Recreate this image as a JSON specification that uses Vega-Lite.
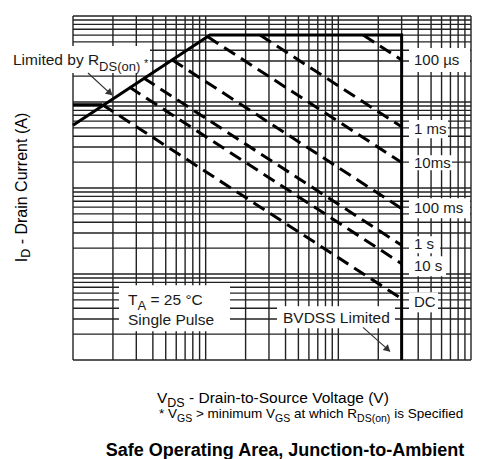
{
  "$schema": "https://vega.github.io/schema/vega-lite/v6.json",
  "width": 398,
  "height": 344,
  "autosize": "none",
  "padding": {"left": 73, "top": 16, "right": 12, "bottom": 99},
  "background": "white",
  "config": {"font": "Liberation Sans", "view": {"stroke": null}},
  "datasets": {
    "vx": [{"v":0.1},{"v":0.2},{"v":0.3},{"v":0.4},{"v":0.5},{"v":0.6},{"v":0.7},{"v":0.8},{"v":0.9},
           {"v":1},{"v":2},{"v":3},{"v":4},{"v":5},{"v":6},{"v":7},{"v":8},{"v":9},
           {"v":10},{"v":20},{"v":30},{"v":40},{"v":50},{"v":60},{"v":70},{"v":80},{"v":90},{"v":100}],
    "hy": [{"v":0.01},{"v":0.02},{"v":0.03},{"v":0.04},{"v":0.05},{"v":0.06},{"v":0.07},{"v":0.08},{"v":0.09},
           {"v":0.1},{"v":0.2},{"v":0.3},{"v":0.4},{"v":0.5},{"v":0.6},{"v":0.7},{"v":0.8},{"v":0.9},
           {"v":1},{"v":2},{"v":3},{"v":4},{"v":5},{"v":6},{"v":7},{"v":8},{"v":9},
           {"v":10},{"v":20},{"v":30},{"v":40},{"v":50},{"v":60},{"v":70},{"v":80},{"v":90},{"v":100}],
    "boxes": [
      {"x":0.03,"x2":0.3805,"y":44.75,"y2":21.70},
      {"x":0.2222,"x2":1.5258,"y":0.073855,"y2":0.021527},
      {"x":3.4479,"x2":26.73,"y":0.042073,"y2":0.023322},
      {"x":34.09,"x2":98.26,"y":42.41,"y2":22.29},
      {"x":34.09,"x2":67.08,"y":6.156,"y2":3.800},
      {"x":34.09,"x2":71.91,"y":2.409,"y2":1.6115},
      {"x":34.09,"x2":98.26,"y":0.7607,"y2":0.4450},
      {"x":34.09,"x2":58.40,"y":0.2748,"y2":0.1741},
      {"x":34.09,"x2":64.79,"y":0.1607,"y2":0.0940},
      {"x":34.09,"x2":56.40,"y":0.06122,"y2":0.03582}
    ],
    "solid": [
      {"s":"lim","o":0,"x":0.1,"y":5.38},
      {"s":"lim","o":1,"x":1.078,"y":60},
      {"s":"lim","o":2,"x":30,"y":60},
      {"s":"lim","o":3,"x":30,"y":0.01},
      {"s":"flat","o":0,"x":0.1,"y":9.3},
      {"s":"flat","o":1,"x":0.1667,"y":9.3}
    ],
    "dash": [
      {"s":"100us","o":0,"x":15.4,"y":60},{"s":"100us","o":1,"x":30,"y":30.8},
      {"s":"1ms","o":0,"x":2.57,"y":60},{"s":"1ms","o":1,"x":30,"y":5.14},
      {"s":"10ms","o":0,"x":1.03,"y":57.6},{"s":"10ms","o":1,"x":30,"y":1.98},
      {"s":"100ms","o":0,"x":0.557,"y":31},{"s":"100ms","o":1,"x":30,"y":0.577},
      {"s":"1s","o":0,"x":0.341,"y":19},{"s":"1s","o":1,"x":30,"y":0.216},
      {"s":"10s","o":0,"x":0.266,"y":14.9},{"s":"10s","o":1,"x":30,"y":0.132},
      {"s":"DC","o":0,"x":0.1667,"y":9.3},{"s":"DC","o":1,"x":30,"y":0.0516}
    ],
    "arrows": [
      {"s":"a1","o":0,"x":0.12972,"y":21.70},{"s":"a1","o":1,"x":0.19680,"y":12.032},
      {"s":"a2","o":0,"x":15.345,"y":0.023955},{"s":"a2","o":1,"x":24.507,"y":0.012593}
    ],
    "heads": [
      {"x":0.19009,"y":12.695},
      {"x":23.59,"y":0.013283}
    ],
    "rlabels": [
      {"t":"100 µs","x":37.18,"y":30.74},
      {"t":"1 ms","x":37.18,"y":4.836},
      {"t":"10ms","x":37.18,"y":1.971},
      {"t":"100 ms","x":37.18,"y":0.5818},
      {"t":"1 s","x":37.18,"y":0.2217},
      {"t":"10 s","x":37.18,"y":0.1229},
      {"t":"DC","x":37.18,"y":0.04684}
    ],
    "ann": [
      {"t":"Limited by R","x":0.035293,"y":26.886},
      {"t":"T","x":0.25976,"y":0.043213},
      {"t":"= 25 °C","x":0.38383,"y":0.043213},
      {"t":"Single Pulse","x":0.25976,"y":0.02528},
      {"t":"BVDSS Limited","x":3.8270,"y":0.026671}
    ],
    "annsub": [
      {"t":"DS(on)","x":0.15733,"y":22.894},
      {"t":"A","x":0.30634,"y":0.038303}
    ],
    "star": [{"t":"*","x":0.34282,"y":25.486}],
    "xt": [
      {"t":"V","x":0.42966,"y":0.0031246},
      {"t":"- Drain-to-Source Voltage (V)","x":0.74855,"y":0.0031246}
    ],
    "xtsub": [{"t":"DS","x":0.51374,"y":0.0028067}],
    "l2": [
      {"t":"* V","x":0.44481,"y":0.0020899},
      {"t":"> minimum V","x":0.84491,"y":0.0020899},
      {"t":"at which R","x":4.6362,"y":0.0020899},
      {"t":"is Specified","x":26.34,"y":0.0020899}
    ],
    "l2sub": [
      {"t":"GS","x":0.6080,"y":0.0018772},
      {"t":"GS","x":3.3375,"y":0.0018772},
      {"t":"DS(on)","x":13.849,"y":0.0018772}
    ],
    "title": [{"t":"Safe Operating Area, Junction-to-Ambient","x":3.9623,"y":0.00077508}],
    "yt": [
      {"t":"I","x":0.044618,"y":0.13683},
      {"t":"- Drain Current (A)","x":0.044618,"y":0.22110}
    ],
    "ytsub": [{"t":"D","x":0.047403,"y":0.15418}]
  },
  "layer": [
    {
      "data": {"name": "vx"},
      "mark": {"type": "rule", "color": "#222", "strokeWidth": 1.4},
      "encoding": {
        "x": {"field": "v", "type": "quantitative",
              "scale": {"type": "log", "domain": [0.1, 100], "nice": false},
              "axis": {"values": [0.1, 1, 10, 100], "format": "~g", "grid": false, "ticks": false, "domain": false,
                       "labelFontSize": 15, "labelColor": "#000", "labelPadding": 8, "labelDx": 4,
                       "labelFlush": false, "labelOverlap": false, "title": null}}
      }
    },
    {
      "data": {"name": "hy"},
      "mark": {"type": "rule", "color": "#222", "strokeWidth": 1.4},
      "encoding": {
        "y": {"field": "v", "type": "quantitative",
              "scale": {"type": "log", "domain": [0.01, 100], "nice": false},
              "axis": {"values": [0.01, 0.1, 1, 10, 100], "format": "~g", "grid": false, "ticks": false, "domain": false,
                       "labelFontSize": 15, "labelColor": "#000", "labelPadding": 6,
                       "labelFlush": false, "labelOverlap": false, "title": null}}
      }
    },
    {
      "data": {"name": "boxes"},
      "mark": {"type": "rect", "fill": "white"},
      "encoding": {
        "x": {"field": "x", "type": "quantitative", "scale": {"type": "log", "domain": [0.1, 100], "nice": false}, "axis": null},
        "x2": {"field": "x2"},
        "y": {"field": "y", "type": "quantitative", "scale": {"type": "log", "domain": [0.01, 100], "nice": false}, "axis": null},
        "y2": {"field": "y2"}
      }
    },
    {
      "data": {"name": "solid"},
      "mark": {"type": "line", "color": "#000", "strokeWidth": 3},
      "encoding": {
        "x": {"field": "x", "type": "quantitative", "scale": {"type": "log", "domain": [0.1, 100], "nice": false}, "axis": null},
        "y": {"field": "y", "type": "quantitative", "scale": {"type": "log", "domain": [0.01, 100], "nice": false}, "axis": null},
        "detail": {"field": "s"},
        "order": {"field": "o"}
      }
    },
    {
      "data": {"name": "dash"},
      "mark": {"type": "line", "color": "#000", "strokeWidth": 3, "strokeDash": [13, 7]},
      "encoding": {
        "x": {"field": "x", "type": "quantitative", "scale": {"type": "log", "domain": [0.1, 100], "nice": false}, "axis": null},
        "y": {"field": "y", "type": "quantitative", "scale": {"type": "log", "domain": [0.01, 100], "nice": false}, "axis": null},
        "detail": {"field": "s"},
        "order": {"field": "o"}
      }
    },
    {
      "data": {"name": "arrows"},
      "mark": {"type": "line", "color": "#333", "strokeWidth": 1.2},
      "encoding": {
        "x": {"field": "x", "type": "quantitative", "scale": {"type": "log", "domain": [0.1, 100], "nice": false}, "axis": null},
        "y": {"field": "y", "type": "quantitative", "scale": {"type": "log", "domain": [0.01, 100], "nice": false}, "axis": null},
        "detail": {"field": "s"},
        "order": {"field": "o"}
      }
    },
    {
      "data": {"name": "heads"},
      "mark": {"type": "point", "shape": "triangle-up", "size": 60, "filled": true, "color": "#333", "opacity": 1, "angle": 132},
      "encoding": {
        "x": {"field": "x", "type": "quantitative", "scale": {"type": "log", "domain": [0.1, 100], "nice": false}, "axis": null},
        "y": {"field": "y", "type": "quantitative", "scale": {"type": "log", "domain": [0.01, 100], "nice": false}, "axis": null}
      }
    },
    {
      "data": {"name": "rlabels"},
      "mark": {"type": "text", "fontSize": 15, "align": "left", "baseline": "middle", "color": "#1a1a1a"},
      "encoding": {
        "x": {"field": "x", "type": "quantitative", "scale": {"type": "log", "domain": [0.1, 100], "nice": false}, "axis": null},
        "y": {"field": "y", "type": "quantitative", "scale": {"type": "log", "domain": [0.01, 100], "nice": false}, "axis": null},
        "text": {"field": "t"}
      }
    },
    {
      "data": {"name": "ann"},
      "mark": {"type": "text", "fontSize": 15.5, "align": "left", "baseline": "alphabetic", "color": "#1a1a1a"},
      "encoding": {
        "x": {"field": "x", "type": "quantitative", "scale": {"type": "log", "domain": [0.1, 100], "nice": false}, "axis": null},
        "y": {"field": "y", "type": "quantitative", "scale": {"type": "log", "domain": [0.01, 100], "nice": false}, "axis": null},
        "text": {"field": "t"}
      }
    },
    {
      "data": {"name": "annsub"},
      "mark": {"type": "text", "fontSize": 13, "align": "left", "baseline": "alphabetic", "color": "#1a1a1a"},
      "encoding": {
        "x": {"field": "x", "type": "quantitative", "scale": {"type": "log", "domain": [0.1, 100], "nice": false}, "axis": null},
        "y": {"field": "y", "type": "quantitative", "scale": {"type": "log", "domain": [0.01, 100], "nice": false}, "axis": null},
        "text": {"field": "t"}
      }
    },
    {
      "data": {"name": "star"},
      "mark": {"type": "text", "fontSize": 11, "align": "left", "baseline": "alphabetic", "color": "#1a1a1a"},
      "encoding": {
        "x": {"field": "x", "type": "quantitative", "scale": {"type": "log", "domain": [0.1, 100], "nice": false}, "axis": null},
        "y": {"field": "y", "type": "quantitative", "scale": {"type": "log", "domain": [0.01, 100], "nice": false}, "axis": null},
        "text": {"field": "t"}
      }
    },
    {
      "data": {"name": "xt"},
      "mark": {"type": "text", "fontSize": 15.5, "align": "left", "baseline": "alphabetic", "color": "#000"},
      "encoding": {
        "x": {"field": "x", "type": "quantitative", "scale": {"type": "log", "domain": [0.1, 100], "nice": false}, "axis": null},
        "y": {"field": "y", "type": "quantitative", "scale": {"type": "log", "domain": [0.01, 100], "nice": false}, "axis": null},
        "text": {"field": "t"}
      }
    },
    {
      "data": {"name": "xtsub"},
      "mark": {"type": "text", "fontSize": 12.5, "align": "left", "baseline": "alphabetic", "color": "#000"},
      "encoding": {
        "x": {"field": "x", "type": "quantitative", "scale": {"type": "log", "domain": [0.1, 100], "nice": false}, "axis": null},
        "y": {"field": "y", "type": "quantitative", "scale": {"type": "log", "domain": [0.01, 100], "nice": false}, "axis": null},
        "text": {"field": "t"}
      }
    },
    {
      "data": {"name": "l2"},
      "mark": {"type": "text", "fontSize": 13.5, "align": "left", "baseline": "alphabetic", "color": "#000"},
      "encoding": {
        "x": {"field": "x", "type": "quantitative", "scale": {"type": "log", "domain": [0.1, 100], "nice": false}, "axis": null},
        "y": {"field": "y", "type": "quantitative", "scale": {"type": "log", "domain": [0.01, 100], "nice": false}, "axis": null},
        "text": {"field": "t"}
      }
    },
    {
      "data": {"name": "l2sub"},
      "mark": {"type": "text", "fontSize": 10.5, "align": "left", "baseline": "alphabetic", "color": "#000"},
      "encoding": {
        "x": {"field": "x", "type": "quantitative", "scale": {"type": "log", "domain": [0.1, 100], "nice": false}, "axis": null},
        "y": {"field": "y", "type": "quantitative", "scale": {"type": "log", "domain": [0.01, 100], "nice": false}, "axis": null},
        "text": {"field": "t"}
      }
    },
    {
      "data": {"name": "title"},
      "mark": {"type": "text", "fontSize": 18, "fontWeight": "bold", "align": "center", "baseline": "alphabetic", "color": "#000"},
      "encoding": {
        "x": {"field": "x", "type": "quantitative", "scale": {"type": "log", "domain": [0.1, 100], "nice": false}, "axis": null},
        "y": {"field": "y", "type": "quantitative", "scale": {"type": "log", "domain": [0.01, 100], "nice": false}, "axis": null},
        "text": {"field": "t"}
      }
    },
    {
      "data": {"name": "yt"},
      "mark": {"type": "text", "fontSize": 16, "align": "left", "baseline": "alphabetic", "angle": 270, "color": "#000"},
      "encoding": {
        "x": {"field": "x", "type": "quantitative", "scale": {"type": "log", "domain": [0.1, 100], "nice": false}, "axis": null},
        "y": {"field": "y", "type": "quantitative", "scale": {"type": "log", "domain": [0.01, 100], "nice": false}, "axis": null},
        "text": {"field": "t"}
      }
    },
    {
      "data": {"name": "ytsub"},
      "mark": {"type": "text", "fontSize": 12.5, "align": "left", "baseline": "alphabetic", "angle": 270, "color": "#000"},
      "encoding": {
        "x": {"field": "x", "type": "quantitative", "scale": {"type": "log", "domain": [0.1, 100], "nice": false}, "axis": null},
        "y": {"field": "y", "type": "quantitative", "scale": {"type": "log", "domain": [0.01, 100], "nice": false}, "axis": null},
        "text": {"field": "t"}
      }
    }
  ]
}
